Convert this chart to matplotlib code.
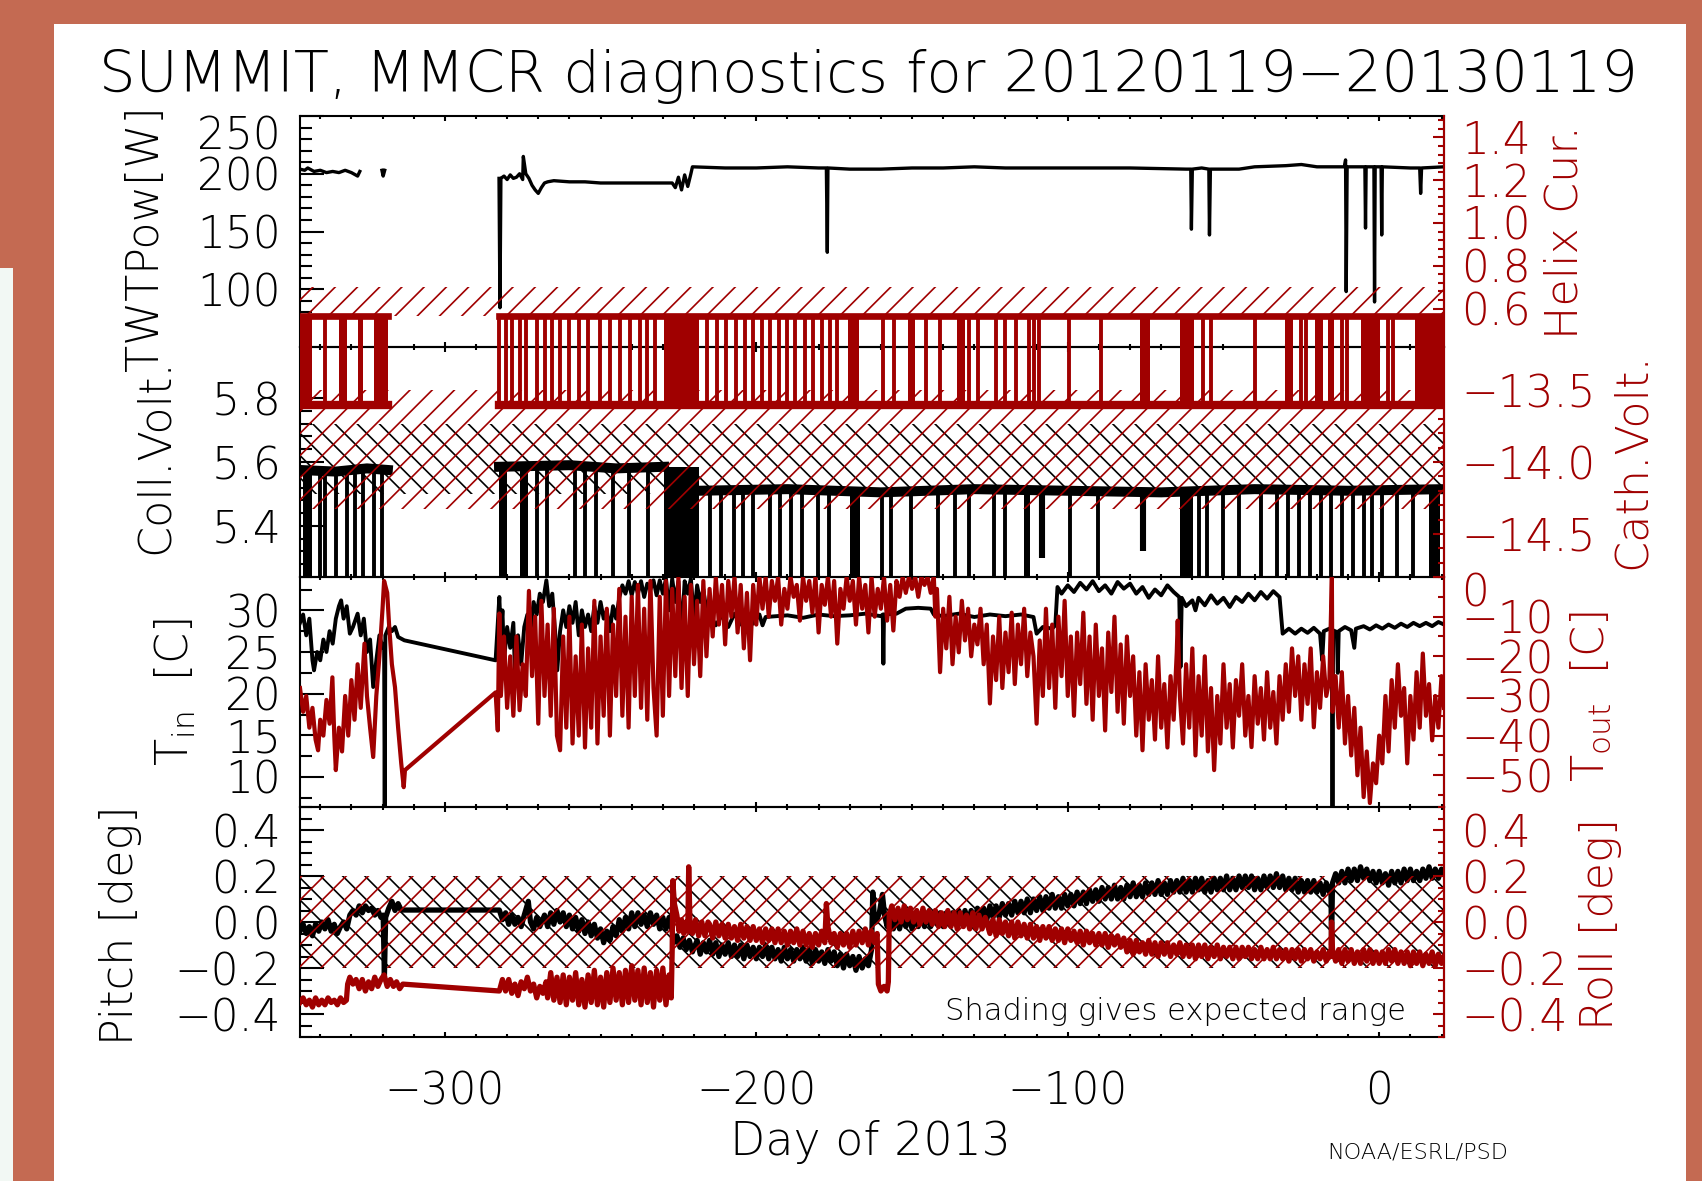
import matplotlib.pyplot as plt
import numpy as np
from matplotlib.patches import Rectangle
from matplotlib.ticker import MultipleLocator

plt.rcParams['font.family'] = ['DejaVu Sans']
plt.rcParams['font.weight'] = 250
plt.rcParams['mathtext.default'] = 'regular'
plt.rcParams['hatch.linewidth'] = 0.6

RED = '#a00000'
nan = np.nan

# ---------------- data (x = day of 2013) ----------------
title = 'SUMMIT, MMCR diagnostics for 20120119\u221220130119'

# panel 1: TWT power [W] (black) and helix current (red)
twt_pts = [(-346.5, 204), (-345, 203), (-344, 205), (-342, 202), (-340, 203), (-338, 201),
           (-336, 202), (-334, 201), (-332, 203), (-330, 201), (-328, 198), (-327.3, 202),
           (nan, nan), (-320.2, 203), (-319.8, 198), (-319.3, 203), (nan, nan),
           (-282.6, 196), (-282.3, 84), (-282, 196), (-281, 198), (-280, 195), (-279, 199),
           (-278, 196), (-277, 197), (-276, 200), (-275, 195), (-274.8, 215), (-274, 200),
           (-273, 196), (-272, 190), (-271, 186), (-270, 183), (-269, 188), (-268, 192),
           (-267, 193), (-265, 194), (-260, 193), (-255, 193), (-250, 192), (-240, 192),
           (-230, 192), (-227, 192), (-226, 188), (-225, 197), (-224, 186), (-223, 199),
           (-222, 189), (-221, 200), (-220.5, 206), (-210, 205), (-200, 205), (-190, 206),
           (-180, 205), (-177.5, 205), (-177.2, 132), (-177, 205), (-170, 204), (-160, 204),
           (-150, 205), (-140, 205), (-130, 206), (-120, 205), (-100, 205), (-80, 205),
           (-62, 204), (-60.5, 204), (-60.3, 152), (-60, 204), (-57, 205), (-54.7, 204),
           (-54.5, 147), (-54.2, 204), (-45, 204), (-40, 206), (-30, 207), (-25, 208),
           (-20, 206), (-11.2, 206), (-10.8, 212), (-10.6, 98), (-10.3, 206), (-4.6, 206),
           (-4.4, 153), (-4.2, 206), (-1.7, 206), (-1.5, 89), (-1.3, 206), (0.6, 206),
           (0.8, 147), (1.0, 206), (10, 205), (13.0, 205), (13.3, 183), (13.6, 205),
           (20.8, 206)]
helix_day = [-346.5, -318.3, nan, -282.6, 20.8]
helix_cur = [0.565, 0.565, nan, 0.565, 0.565]
helix_ok = (0.565, 0.70)

# radar-off samples: helix drops / cathode voltage jumps (red bars)
red_off_day = [-338.5, -282.6, -280.5, -278.4, -276.0, -273.9, -270.5, -267.8, -265.5,
               -263.0, -260.0, -257.0, -254.0, -250.2, -247.0, -243.8, -240.5, -237.3,
               -235.0, -232.5, -215.8, -212.5, -209.7, -206.5, -203.6, -201.0, -198.2,
               -195.5, -192.7, -190.0, -187.6, -184.5, -181.8, -179.0, -176.3, -174.0,
               -159.4, -155.8, -145.5, -141.0, -131.7, -128.8, -123.0, -120.1, -116.6,
               -112.4, -110.8, -109.2, -99.5, -89.3, -56.5, -53.9, -40.0, -25.1, -23.5,
               -11.9, -10.3, 2.8, 4.4]
red_off_span = [(-346.5, 3.8), (-334.0, 2.6), (-328.0, 1.7), (-322.7, 4.4), (-229.6, 11.2),
                (-170.5, 3.6), (-151.3, 2.3), (-135.6, 2.6), (-76.8, 3.2), (-64.0, 4.4),
                (-30.3, 2.6), (-20.6, 2.5), (-16.4, 1.9), (-5.9, 6.2), (11.5, 9.3)]

# panel 2: collector voltage (black) and cathode voltage (red)
coll_day = [-346.5, -335, -325, -318.3, nan, -282.6, -260, -245, -229.6, nan,
            -218.4, -190, -160, -130, -100, -70, -40, -10, 20.8]
coll_volt = [5.575, 5.57, 5.58, 5.575, nan, 5.585, 5.59, 5.58, 5.585, nan,
             5.51, 5.515, 5.505, 5.515, 5.51, 5.505, 5.515, 5.51, 5.515]
coll_ok = (5.50, 5.72)
coll_off_a = [-340.0, -338.5, -334.9, -331.4, -328.8, -326.3, -322.7, -320.2, -270.4,
              -267.2, -258.2, -254.9, -251.5, -246.0, -240.9, -234.8]
coll_off_b = [-214.9, -211.3, -207.2, -204.3, -201.0, -195.6, -192.4, -188.9, -185.3,
              -180.2, -176.7, -159.6, -156.7, -150.3, -141.7, -136.2, -131.7, -123.7,
              -120.1, -99.3, -90.3, -57.8, -55.3, -50.3, -45.0, -38.0, -32.8, -29.3,
              -25.8, -22.3, -18.8, -15.4, -11.9, -8.4, -4.9, -2.4, 1.0, 5.6, 10.8]
coll_span_a = [(-345.5, 2.9), (-282.6, 2.6), (-275.9, 2.6), (-229.6, 11.2)]
coll_span_b = [(-169.9, 3.2), (-114.0, 2.0), (-64.0, 4.2), (16.0, 3.5)]
coll_dip_day = [-108.3, -75.8]
coll_dip_low = [5.30, 5.32]

cath_day = [-346.5, -318.3, nan, -282.6, 20.8]
cath_volt = [-13.605, -13.605, nan, -13.605, -13.605]
cath_ok = (-14.33, -13.5)

# panel 3: inside (black) and outside (red) temperature [C]
t_in_pts = [(-346.5, 28.5), (-345.5, 29.5), (-344.5, 27), (-343.5, 29), (-342.5, 24), (-342, 22.8),
            (-341, 25), (-340, 24), (-339, 26.5), (-338, 25), (-337, 27.5), (-336, 26), (-335, 29),
            (-334, 30.5), (-333.3, 31.2), (-332.5, 29), (-331.5, 30.5), (-330.5, 27.2), (-329.5, 28),
            (-328, 29.6), (-327, 27), (-326, 29), (-325, 25), (-324, 26.5), (-323, 20.8), (-322, 24),
            (-321, 27), (-320, 25.5), (-319.5, 26), (-319.3, 6.0), (-319.1, 27), (-318, 28),
            (-317, 27.5), (-316, 28), (-315, 26.8), (-313, 26.4), (-283.7, 24.0),
            (-282.5, 31.6), (-282, 27), (-281.5, 30), (-281, 24), (-280, 28), (-279, 25.5),
            (-278, 28.5), (-277.5, 22.8), (-276.5, 27), (-275.5, 23.5), (-274.5, 28), (-273.5, 29.5),
            (-272.5, 27.5), (-271.5, 31), (-270.5, 29.5), (-269.5, 32), (-268.5, 31), (-267.4, 33.6),
            (-266.5, 30.5), (-265.5, 32), (-264.5, 27), (-263.9, 22.8), (-263, 27.5), (-262, 30),
            (-261, 28), (-260, 30.5), (-259, 28.5), (-258, 31), (-257, 27), (-256, 30), (-255, 28),
            (-254, 29.5), (-253, 27.5), (-252, 30.5), (-251, 28.5), (-250, 31), (-249, 29), (-248, 30),
            (-247, 27.5), (-246, 30.5), (-245, 29), (-244, 31.5), (-243, 33), (-242, 32), (-241, 33.5),
            (-240, 31.8), (-239, 33.4), (-238, 32), (-237, 33.5), (-236, 31.6), (-235, 33.2),
            (-234, 32.5), (-233, 33.6), (-232, 31.8), (-231, 33.6), (-230, 32), (-229, 33.8),
            (-228, 30), (-227, 33.8), (-226, 31), (-225, 33.5), (-224, 26.8), (-223, 33.5),
            (-222, 32), (-221, 33.8), (-220, 29), (-219, 33), (-218, 31), (-217, 32.5), (-216, 30),
            (-215, 29.6), (-213, 28.2), (-211, 29.4), (-209, 28), (-207, 29.6), (-205, 28.3),
            (-203, 29.5), (-201, 28.4), (-199, 29.5), (-198, 28.2), (-197, 29.2),
            (-190, 29.4), (-185, 29.1), (-180, 29.5), (-175, 29.3), (-170, 29.4), (-165, 29.6),
            (-160, 29.3), (-159.4, 29.5), (-159.2, 23.6), (-159, 29.5), (-155, 29.6), (-152, 30.2),
            (-148, 30.3), (-144, 30.2), (-143, 29.5), (-140, 29.3), (-135, 29.6), (-130, 29.2),
            (-125, 29.5), (-120, 29.3), (-115, 29.5), (-111, 29.2), (-110, 27.2), (-108, 28.0),
            (-105, 27.8), (-104, 28.2), (-103.3, 32.8), (-102, 32), (-100, 33), (-98, 32.2),
            (-96, 33.3), (-94, 32.5), (-92, 33.5), (-90, 32.3), (-88, 33), (-86, 32), (-84, 33.4),
            (-82, 32.6), (-80, 33.2), (-78, 32), (-76, 32.8), (-74, 31.5), (-72, 32.5), (-70, 31.8),
            (-68, 33), (-66, 32.2), (-64.2, 31.6), (-63.8, 23.2), (-63.4, 31.5), (-62, 30.5),
            (-60, 31.2), (-59, 30), (-58, 31.5), (-56, 30.6), (-54, 31.8), (-52, 30.8), (-50, 31.5),
            (-48, 30.4), (-46, 31.6), (-44, 31), (-42, 32), (-40, 31.2), (-38, 32.2), (-36, 31.4),
            (-34, 32.3), (-32, 31.6), (-31, 27.2), (-29, 27.8), (-27, 27.2), (-25, 27.8), (-23, 27.3),
            (-21, 27.9), (-19, 27.2), (-18.3, 24), (-17.8, 27.5), (-16, 27.8), (-15.2, 27.6),
            (-15, 6.0), (-14.8, 27.6), (-13.6, 27.4), (-13.3, 22.5), (-13, 27.5), (-11, 28),
            (-9, 27.6), (-8, 25.5), (-7.5, 27.8), (-5, 28.1), (-3, 27.7), (-1, 28.2), (1, 27.8),
            (3, 28.3), (5, 27.9), (7, 28.4), (9, 28), (11, 28.5), (13, 28.1), (15, 28.5), (17, 28.1),
            (19, 28.6), (20.8, 28.3)]

t_out_pts = [(-346.5, -28), (-345.5, -34), (-344.5, -30), (-343.5, -38), (-342.5, -33), (-341.5, -41),
             (-340.7, -43.7), (-340, -36), (-339, -40), (-338, -31), (-337, -37), (-336.1, -25.3),
             (-335.5, -40), (-335, -48.7), (-334, -38), (-333, -44), (-332, -30), (-331, -40),
             (-330, -26), (-329, -36), (-328, -22), (-327, -33), (-325.8, -16.8), (-325, -30),
             (-324, -38), (-323, -45.4), (-322, -30), (-321, -20), (-320, -8), (-319.5, -1),
             (-318.5, -4), (-317.9, -12), (-317, -22), (-316, -27.8), (-315, -38), (-314, -47),
             (-313.2, -53), (-312.8, -48.7), (-283.7, -29.1),
             (-283, -38.7), (-282.5, -9.2), (-282, -30), (-281, -15), (-280, -33), (-279, -20),
             (-278, -35), (-277, -15), (-276, -33.6), (-275, -22), (-274, -30), (-273, -3.5),
             (-272, -25), (-271, -10), (-270, -37), (-269, -6), (-268, -30), (-267, -12), (-266, -35),
             (-265, -8), (-264, -40), (-263, -43.7), (-262, -15), (-261, -38), (-260, -10), (-259, -42),
             (-258, -20), (-257, -40), (-256, -12), (-255, -43), (-254, -18), (-253, -38), (-252, -6),
             (-251, -42), (-250, -15), (-249, -35), (-248, -8), (-247, -40), (-246, -12), (-245, -30),
             (-244, -3), (-243, -35), (-242, -10), (-241, -38), (-240, -5), (-239, -30), (-238, -2),
             (-237, -33), (-236, -8), (-235, -36), (-234, -1), (-233, -28), (-232, -40), (-231, -5),
             (-230, -35), (-229, -1), (-228, -30), (-227, -3), (-226, -25), (-225, 0), (-224, -28),
             (-223, -5), (-222, -30), (-221, -2), (-220, -22), (-219, -6), (-218, -25), (-217, -1),
             (-216, -20), (-215, -3), (-214, -15), (-213, 0), (-212, -12), (-211, -2), (-210, -17),
             (-209, -1), (-208, -10), (-207, 0), (-206, -14), (-205, -2), (-204, -18), (-203, -4),
             (-202, -21), (-201, -2), (-200, -12), (-199, 0), (-198, -8), (-197, 0), (-196, -10),
             (-195, -1), (-194, -6), (-193, 0), (-192, -12), (-191, -3), (-190, -8), (-189, 0),
             (-188, -5), (-187, -2), (-186, -11), (-185, 0), (-184, -6), (-183, -1), (-182, -9),
             (-181, 0), (-180, -14), (-179, -2), (-178, -7), (-177, 0), (-176, -10), (-175, -1),
             (-174, -16.8), (-173, -3), (-172, -8), (-171, 0), (-170, -6),
             (-169, -1), (-168, -12), (-167, 0), (-166, -8), (-165, -2), (-164, -14), (-163, 0),
             (-162, -10), (-161, -3), (-160, -8), (-159, 0), (-158, -11), (-157, -2), (-156, -13.5),
             (-155, -1), (-154, -5), (-153, 0), (-152, -4), (-151, 0), (-150, -3), (-149, 0),
             (-148, -5), (-147, 0), (-146, -2), (-145, 0), (-144, -4), (-143, 0), (-142.5, -10),
             (-142, -3), (-141, -24), (-140, -8), (-139, -18), (-138, -5), (-137, -22), (-136, -10),
             (-135, -19), (-134, -6), (-133, -16), (-132, -8), (-131, -20), (-130, -12), (-129, -17),
             (-128, -8), (-127, -22), (-126, -12), (-125, -31.9), (-124, -15), (-123, -26),
             (-122, -10), (-121, -28), (-120, -14), (-119, -24), (-118, -9), (-117, -27), (-116, -12),
             (-115, -22), (-114, -8), (-113, -25), (-112, -14), (-111, -20), (-110, -37), (-109, -16),
             (-108, -30), (-107, -8), (-106, -28), (-105, -12), (-104, -33), (-103, -10), (-102, -25),
             (-101, -6), (-100, -30), (-99, -15), (-98, -35), (-97, -14), (-96, -27), (-95, -9),
             (-94, -32), (-93, -15), (-92, -36), (-91, -12), (-90, -30), (-89, -18), (-88, -38.7),
             (-87, -14), (-86, -29), (-85, -10), (-84, -34), (-83, -17), (-82, -37), (-81, -15),
             (-80, -30), (-79, -20), (-78, -40), (-77, -24), (-76, -43.7), (-75, -22), (-74, -36),
             (-73, -26), (-72, -41), (-71, -20), (-70, -38), (-69, -27), (-68, -43), (-67, -25),
             (-66, -36), (-65, -19), (-64.7, -11), (-64, -30), (-63, -42), (-62, -22), (-61, -38),
             (-60, -18), (-59, -45), (-58, -25), (-57, -40), (-56, -20), (-55, -44), (-54, -28),
             (-53, -48.7), (-52, -30), (-51, -42), (-50, -22), (-49, -38), (-48, -27), (-47, -43),
             (-46, -26), (-45, -35), (-44, -22), (-43, -40), (-42, -30), (-41, -42.9), (-40, -25),
             (-39, -37), (-38, -28), (-37, -41), (-36, -24), (-35, -38), (-34, -29), (-33, -42),
             (-32, -25), (-31, -36), (-30, -22), (-29, -34), (-28, -18), (-27, -30), (-26, -20),
             (-25, -36), (-24, -22), (-23, -32), (-22, -18), (-21, -37.9), (-20, -24), (-19, -33),
             (-18, -20), (-17, -30), (-16, -26), (-15.2, 0), (-15, -34), (-14, -25), (-13, -38),
             (-12, -24), (-11, -42), (-10, -30), (-9, -45), (-8, -33), (-7, -50), (-6, -38),
             (-5, -55.5), (-4, -44), (-3, -57), (-2, -47), (-1, -52), (0, -40), (1, -47), (2, -30),
             (3, -44), (4, -26), (5, -38), (6, -22), (7, -35), (8, -28), (9, -47), (10, -30),
             (11, -41), (12, -24), (13, -38), (14, -19.3), (15, -35), (16, -27), (17, -41.2),
             (18, -30), (19, -38), (20, -25), (20.8, -33)]

# panel 4: pitch (black) and roll (red) [deg]
pitch_pts = [(-346.5, -0.04), (-345.5, -0.01), (-344.5, -0.05), (-343.5, -0.02), (-342.5, -0.06),
             (-341.5, -0.01), (-340.5, -0.04), (-339.5, 0.0), (-338.5, -0.03), (-337.5, 0.01),
             (-336.5, -0.04), (-335.5, -0.01), (-334.5, -0.05), (-333.5, -0.02), (-332.5, 0.0),
             (-331.5, -0.03), (-330.5, 0.03), (-329.5, 0.05), (-328.5, 0.03), (-327.5, 0.07),
             (-326.5, 0.04), (-325.5, 0.07), (-324.5, 0.05), (-323.5, 0.06), (-322.5, 0.03),
             (-321.5, 0.05), (-320.5, 0.02), (-319.8, 0.03), (-319.4, -0.24), (-319.0, 0.02),
             (-318, 0.06), (-317, 0.09), (-316, 0.05), (-315, 0.08), (-314, 0.052), (-282.5, 0.052),
             (-281.5, 0.01), (-280.5, 0.04), (-279.5, -0.01), (-278.5, 0.03), (-277.5, -0.01),
             (-276.5, 0.02), (-275.5, -0.02), (-274.5, 0.03), (-273.2, 0.09), (-272.5, 0.0),
             (-271.5, -0.03), (-270.5, 0.02), (-269.5, -0.02),
             (-268, 0.03), (-267, -0.02), (-266, 0.04), (-265, -0.01), (-264, 0.05), (-263, 0.0),
             (-262, 0.04), (-261, -0.02), (-260, 0.03), (-259, -0.03), (-258, 0.02), (-257, -0.04),
             (-256, 0.01), (-255, -0.05), (-254, 0.0), (-253, -0.06), (-252, -0.01), (-251, -0.07),
             (-250, -0.03), (-249, -0.09), (-248, -0.04), (-247, -0.08), (-246, -0.02), (-245, -0.06),
             (-244, 0.01), (-243, -0.04), (-242, 0.02), (-241, -0.03), (-240, 0.04), (-239, -0.02),
             (-238, 0.04), (-237, -0.01), (-236, 0.03), (-235, -0.02), (-234, 0.04), (-233, -0.01),
             (-232, 0.03), (-231, -0.03), (-230, 0.02), (-229, -0.03), (-228, 0.02), (-227, -0.04),
             (-226.5, -0.09), (-225.5, -0.06), (-224.5, -0.11), (-223.5, -0.07), (-222.5, -0.12),
             (-221.5, -0.08), (-220.5, -0.13), (-219, -0.08), (-218, -0.14), (-217, -0.09),
             (-216, -0.13), (-215, -0.08), (-214, -0.14), (-213, -0.09), (-212, -0.15), (-211, -0.10),
             (-210, -0.14), (-209, -0.09), (-208, -0.15), (-207, -0.10), (-206, -0.15), (-205, -0.10),
             (-204, -0.16), (-203, -0.10), (-202, -0.15), (-201, -0.11), (-200, -0.16), (-199, -0.11),
             (-198, -0.15), (-197, -0.10), (-196, -0.16), (-195, -0.11), (-194, -0.16), (-193, -0.12),
             (-192, -0.17), (-191, -0.11), (-190, -0.16), (-189, -0.12), (-188, -0.17), (-187, -0.12),
             (-186, -0.16), (-185, -0.11), (-184, -0.17), (-183, -0.12), (-182, -0.18), (-181, -0.12),
             (-180, -0.17), (-179, -0.13), (-178, -0.18), (-177, -0.12), (-176, -0.17), (-175, -0.13),
             (-174, -0.19), (-173, -0.14), (-172, -0.20), (-171, -0.14), (-170, -0.19), (-169, -0.15),
             (-168, -0.21), (-167, -0.15), (-166, -0.20), (-165, -0.16), (-164, -0.19), (-163, -0.12),
             (-162.6, 0.13), (-162.2, 0.04), (-161.5, 0.0), (-160.5, 0.04), (-159.5, 0.12),
             (-158.8, 0.03), (-158, -0.02), (-157, 0.02), (-156, -0.03), (-155, 0.02), (-154, -0.03),
             (-153, 0.03), (-152, -0.02), (-151, 0.03), (-150, -0.03), (-149, 0.02), (-148, -0.02),
             (-147, 0.03), (-146, -0.02), (-145, 0.04), (-144, -0.02), (-143, 0.03), (-142, -0.01),
             (-141, 0.04), (-140, -0.02), (-139, 0.04), (-138, -0.01), (-137, 0.04), (-136, 0.0),
             (-135, 0.05), (-134, -0.01), (-133, 0.05), (-132, 0.0), (-131, 0.05), (-130, 0.0),
             (-129, 0.06), (-128, 0.01), (-127, 0.06), (-126, 0.01), (-125, 0.07), (-124, 0.02),
             (-123, 0.07), (-122, 0.02), (-121, 0.08), (-120, 0.03), (-119, 0.08), (-118, 0.03),
             (-117, 0.09), (-116, 0.04), (-115, 0.09), (-114, 0.04), (-113, 0.10), (-112, 0.04),
             (-111, 0.10), (-110, 0.05), (-109, 0.11), (-108, 0.05), (-107, 0.11), (-106, 0.06),
             (-105, 0.12), (-104, 0.06), (-103, 0.11), (-102, 0.06), (-101, 0.12), (-100, 0.07),
             (-99, 0.12), (-98, 0.07), (-97, 0.13), (-96, 0.08), (-95, 0.13), (-94, 0.08), (-93, 0.14),
             (-92, 0.09), (-91, 0.14), (-90, 0.09), (-89, 0.15), (-88, 0.10), (-87, 0.15), (-86, 0.10),
             (-85, 0.16), (-84, 0.10), (-83, 0.15), (-82, 0.10), (-81, 0.16), (-80, 0.11), (-79, 0.17),
             (-78, 0.11), (-77, 0.16), (-76, 0.11), (-75, 0.17), (-74, 0.12), (-73, 0.17), (-72, 0.12),
             (-71, 0.18), (-70, 0.12), (-69, 0.17), (-68, 0.12), (-67, 0.18), (-66, 0.13), (-65, 0.18),
             (-64, 0.13), (-63, 0.19), (-62, 0.13), (-61, 0.18), (-60, 0.13), (-59, 0.19), (-58, 0.14),
             (-57, 0.19), (-56, 0.13), (-55, 0.18), (-54, 0.13), (-53, 0.19), (-52, 0.14), (-51, 0.19),
             (-50, 0.14), (-49, 0.20), (-48, 0.14), (-47, 0.19), (-46, 0.14), (-45, 0.20), (-44, 0.15),
             (-43, 0.20), (-42, 0.15), (-41, 0.20), (-40, 0.14), (-39, 0.19), (-38, 0.14), (-37, 0.20),
             (-36, 0.15), (-35, 0.20), (-34, 0.15), (-33, 0.21), (-32, 0.15), (-31, 0.20), (-30, 0.14),
             (-29, 0.19), (-28, 0.14), (-27, 0.19), (-26, 0.13), (-25, 0.18), (-24, 0.13), (-23, 0.18),
             (-22, 0.13), (-21, 0.18), (-20, 0.13), (-19, 0.17), (-18, 0.12), (-17, 0.17), (-16, 0.13),
             (-15.5, 0.14), (-15.3, -0.10), (-15.0, 0.17), (-14, 0.21), (-13, 0.17), (-12, 0.22),
             (-11, 0.17), (-10, 0.23), (-9, 0.18), (-8, 0.23), (-7, 0.18), (-6, 0.24), (-5, 0.19),
             (-4, 0.23), (-3, 0.18), (-2, 0.22), (-1, 0.17), (0, 0.22), (1, 0.17), (2, 0.21), (3, 0.16),
             (4, 0.22), (5, 0.17), (6, 0.22), (7, 0.17), (8, 0.23), (9, 0.18), (10, 0.23), (11, 0.18),
             (12, 0.22), (13, 0.18), (14, 0.23), (15, 0.19), (16, 0.24), (17, 0.19), (18, 0.23),
             (19, 0.19), (20, 0.23), (20.8, 0.21)]

roll_pts = [(-346.5, -0.35), (-345.5, -0.33), (-344.5, -0.36), (-343.5, -0.34), (-342.5, -0.37),
            (-341.5, -0.33), (-340.5, -0.36), (-339.5, -0.34), (-338.5, -0.36), (-337.5, -0.33),
            (-336.5, -0.35), (-335.5, -0.34), (-334.5, -0.36), (-333.5, -0.33), (-332.5, -0.35),
            (-331.6, -0.34), (-331.2, -0.27), (-330.5, -0.24), (-329.5, -0.27), (-328.5, -0.25),
            (-327.5, -0.29), (-326.5, -0.25), (-325.5, -0.30), (-324.5, -0.26), (-323.5, -0.29),
            (-322.5, -0.24), (-321.5, -0.28), (-320.5, -0.25), (-319.5, -0.23), (-318.5, -0.28),
            (-317.5, -0.25), (-316.5, -0.28), (-315.5, -0.26), (-314.5, -0.29), (-313.5, -0.27),
            (-282.5, -0.30), (-281.5, -0.25), (-280.5, -0.30), (-279.5, -0.25), (-278.5, -0.31),
            (-277.5, -0.27), (-276.5, -0.32), (-275.5, -0.26), (-274.5, -0.29), (-273.5, -0.24),
            (-272.5, -0.30), (-271.5, -0.27), (-270.5, -0.33), (-269.5, -0.28), (-268.5, -0.31),
            (-267.5, -0.26), (-267, -0.33), (-266, -0.22), (-265, -0.34), (-264, -0.24), (-263, -0.35),
            (-262, -0.23), (-261, -0.36), (-260, -0.24), (-259, -0.34), (-258, -0.22), (-257, -0.36),
            (-256, -0.25), (-255, -0.37), (-254, -0.23), (-253, -0.35), (-252, -0.21), (-251, -0.36),
            (-250, -0.24), (-249, -0.37), (-248, -0.22), (-247, -0.35), (-246, -0.20), (-245, -0.34),
            (-244, -0.22), (-243, -0.36), (-242, -0.21), (-241, -0.35), (-240, -0.19), (-239, -0.34),
            (-238, -0.21), (-237, -0.36), (-236, -0.20), (-235, -0.35), (-234, -0.22), (-233, -0.37),
            (-232, -0.21), (-231, -0.34), (-230, -0.20), (-229, -0.36), (-228, -0.23), (-227.3, -0.33),
            (-227.0, -0.12), (-226.8, 0.18), (-226.3, 0.08), (-225.5, 0.03), (-224.8, -0.04),
            (-224, 0.01), (-223.3, -0.05), (-222.5, 0.0), (-222, -0.04), (-221.7, 0.24),
            (-221.3, 0.0), (-220.5, -0.05), (-219.5, 0.01), (-218.5, -0.06), (-217.5, 0.0),
            (-216.5, -0.06), (-215.5, 0.0), (-215, -0.01), (-214, -0.07), (-213, 0.0), (-212, -0.06),
            (-211, -0.01), (-210, -0.07), (-209, -0.01), (-208, -0.07), (-207, -0.02), (-206, -0.08),
            (-205, -0.01), (-204, -0.07), (-203, -0.02), (-202, -0.08), (-201, -0.02), (-200, -0.08),
            (-199, -0.03), (-198, -0.09), (-197, -0.03), (-196, -0.08), (-195, -0.03), (-194, -0.09),
            (-193, -0.03), (-192, -0.09), (-191, -0.04), (-190, -0.10), (-189, -0.04), (-188, -0.09),
            (-187, -0.03), (-186, -0.10), (-185, -0.04), (-184, -0.10), (-183, -0.05), (-182, -0.11),
            (-181, -0.05), (-180, -0.10), (-179, -0.04), (-178, -0.09), (-177.5, 0.08), (-177, -0.02),
            (-176, -0.09), (-175, -0.05), (-174, -0.11), (-173, -0.05), (-172, -0.10), (-171, -0.05),
            (-170, -0.11), (-169, -0.04), (-168, -0.10), (-167, -0.04), (-166, -0.09), (-165, -0.03),
            (-164, -0.10), (-163, -0.04), (-162, -0.09), (-161.2, -0.05), (-160.8, -0.27), (-160, -0.30),
            (-159, -0.28), (-158, -0.30), (-157.6, -0.26), (-157.3, 0.03), (-156.5, 0.07),
            (-155.5, 0.01), (-154.5, 0.06), (-153.5, 0.0), (-152.5, 0.07), (-151.5, 0.01),
            (-150.5, 0.06), (-149.5, 0.0), (-148.5, 0.05), (-147.5, -0.01), (-146.5, 0.06),
            (-145.5, 0.0), (-144.5, 0.05), (-143.5, -0.01), (-142.5, 0.05), (-141.5, -0.02),
            (-140.5, 0.04), (-139.5, -0.02), (-138.5, 0.05), (-137.5, -0.02), (-136.5, 0.04),
            (-135.5, -0.03), (-134.5, 0.04), (-133.5, -0.02), (-132.5, 0.03), (-131.5, -0.03),
            (-130.5, 0.04), (-129.5, -0.03), (-128.5, 0.03), (-127.5, -0.03), (-126.5, 0.02),
            (-125, -0.05), (-124, 0.01), (-123, -0.06), (-122, 0.01), (-121, -0.05), (-120, 0.0),
            (-119, -0.06), (-118, 0.0), (-117, -0.07), (-116, 0.0), (-115, -0.06), (-114, -0.01),
            (-113, -0.07), (-112, -0.01), (-111, -0.07), (-110, -0.02), (-109, -0.08), (-108, -0.02),
            (-107, -0.07), (-106, -0.02), (-105, -0.08), (-104, -0.03), (-103, -0.08), (-102, -0.03),
            (-101, -0.09), (-100, -0.03), (-99, -0.08), (-98, -0.04), (-97, -0.09), (-96, -0.04),
            (-95, -0.10), (-94, -0.04), (-93, -0.09), (-92, -0.05), (-91, -0.10), (-90, -0.05),
            (-89, -0.10), (-88, -0.05), (-87, -0.11), (-86, -0.06), (-85, -0.10), (-84, -0.06),
            (-83, -0.11), (-82, -0.07), (-81, -0.13), (-80, -0.08), (-79, -0.14), (-78, -0.08),
            (-77, -0.13), (-76, -0.09), (-75, -0.14), (-74, -0.08), (-73, -0.14), (-72, -0.09),
            (-71, -0.15), (-70, -0.09), (-69, -0.14), (-68, -0.09), (-67, -0.15), (-66, -0.10),
            (-65, -0.14), (-64, -0.09), (-63, -0.15), (-62, -0.10), (-61, -0.15), (-60, -0.10),
            (-59, -0.16), (-58, -0.10), (-57, -0.15), (-56, -0.10), (-55, -0.16), (-54, -0.11),
            (-53, -0.15), (-52, -0.10), (-51, -0.16), (-50, -0.11), (-49, -0.15), (-48, -0.11),
            (-47, -0.16), (-46, -0.11), (-45, -0.16), (-44, -0.11), (-43, -0.15), (-42, -0.11),
            (-41, -0.16), (-40, -0.12), (-39, -0.16), (-38, -0.11), (-37, -0.16), (-36, -0.12),
            (-35, -0.16), (-34, -0.11), (-33, -0.16), (-32, -0.12), (-31, -0.16), (-30, -0.12),
            (-29, -0.17), (-28, -0.12), (-27, -0.16), (-26, -0.12), (-25, -0.17), (-24, -0.12),
            (-23, -0.16), (-22, -0.12), (-21, -0.17), (-20, -0.13), (-19, -0.16), (-18, -0.12),
            (-17, -0.17), (-16, -0.13), (-15.5, -0.15), (-15.3, 0.0), (-15.0, -0.12), (-14, -0.17),
            (-13, -0.12), (-12, -0.18), (-11, -0.12), (-10, -0.17), (-9, -0.12), (-8, -0.18),
            (-7, -0.13), (-6, -0.18), (-5, -0.12), (-4, -0.17), (-3, -0.12), (-2, -0.18), (-1, -0.13),
            (0, -0.18), (1, -0.13), (2, -0.18), (3, -0.12), (4, -0.17), (5, -0.12), (6, -0.18),
            (7, -0.13), (8, -0.18), (9, -0.13), (10, -0.19), (11, -0.13), (12, -0.18), (13, -0.13),
            (14, -0.19), (15, -0.14), (16, -0.18), (17, -0.13), (18, -0.19), (19, -0.14), (20, -0.18),
            (20.8, -0.15)]
pitch_ok = (-0.2, 0.2)
roll_ok = (-0.2, 0.2)

# ---------------- figure ----------------
W_PX, H_PX = 1702, 1181
fig = plt.figure(figsize=(W_PX / 200, H_PX / 200), dpi=200, facecolor='#c46a52')


def fx(px):
    return px / W_PX


def fy(py):
    return 1 - py / H_PX


fig.add_artist(Rectangle((fx(54), 0), fx(1686) - fx(54), fy(24), transform=fig.transFigure,
                         facecolor='white', edgecolor='none', zorder=-5))
fig.add_artist(Rectangle((0, 0), fx(13), fy(268), transform=fig.transFigure,
                         facecolor='#f2f8f4', edgecolor='none', zorder=-5))

edges = [116, 347, 577, 807, 1037]
axes = []
for i in range(4):
    rect = [fx(300), fy(edges[i + 1]), fx(1444) - fx(300), fy(edges[i]) - fy(edges[i + 1])]
    ax = fig.add_axes(rect, sharex=axes[0] if axes else None)
    ax.set_facecolor('none')
    axes.append(ax)
twins = [ax.twinx() for ax in axes]

for ax in axes:
    for s in ax.spines.values():
        s.set_linewidth(0.75)
    ax.tick_params(axis='x', which='both', direction='in', top=True, bottom=True,
                   labelbottom=False, width=0.75)
    ax.tick_params(axis='x', which='major', length=1.9)
    ax.tick_params(axis='x', which='minor', length=1.1)
    ax.tick_params(axis='y', which='both', direction='in', width=0.75, labelsize=15.8, pad=6.8)
    ax.tick_params(axis='y', which='major', length=8.6)
    ax.tick_params(axis='y', which='minor', length=4.3)
    ax.xaxis.set_major_locator(MultipleLocator(100))
    ax.xaxis.set_minor_locator(MultipleLocator(10))
for tw in twins:
    tw.spines['right'].set_color(RED)
    tw.spines['right'].set_linewidth(0.75)
    for side in ('left', 'top', 'bottom'):
        tw.spines[side].set_visible(False)
    tw.tick_params(axis='y', which='both', direction='in', colors=RED, width=0.75,
                   labelsize=15.8, pad=6.1)
    tw.tick_params(axis='y', which='major', length=4.0)
    tw.tick_params(axis='y', which='minor', length=2.2)

axes[3].tick_params(axis='x', labelbottom=True, labelsize=15.8, pad=11.9)
axes[0].set_xlim(-346.5, 20.8)
axes[3].set_xticks([-300, -200, -100, 0])
axes[3].set_xticklabels(['\u2212300', '\u2212200', '\u2212100', '0'])

# ---- panel 1
ax, tw = axes[0], twins[0]
ax.set_ylim(50, 250)
ax.set_yticks([100, 150, 200, 250])
ax.set_yticklabels(['100', '150', '200', ''])
ax.yaxis.set_minor_locator(MultipleLocator(10))
ax.annotate('250', xy=(0, 250), xycoords=('axes fraction', 'data'), xytext=(-6.8, 0),
            textcoords='offset points', ha='right', va='top', fontsize=15.8, annotation_clip=False)
twt = np.array(twt_pts, dtype=float)
ax.plot(twt[:, 0], twt[:, 1], color='k', lw=1.2)
tw.set_ylim(0.42, 1.5)
tw.set_yticks([0.6, 0.8, 1.0, 1.2, 1.4])
tw.set_yticklabels(['0.6', '0.8', '1.0', '1.2', '1.4'])
tw.yaxis.set_minor_locator(MultipleLocator(0.04))
tw.axhspan(*helix_ok, facecolor='none', edgecolor=RED, hatch='///', lw=0)
tw.plot(helix_day, helix_cur, color=RED, lw=2.4)
tw.vlines(red_off_day, 0.0, 0.565, colors=RED, lw=1.4)
tw.broken_barh(red_off_span, (0.0, 0.565), facecolors=RED)

# ---- panel 2
ax, tw = axes[1], twins[1]
ax.set_ylim(5.24, 5.96)
ax.set_yticks([5.4, 5.6, 5.8])
ax.set_yticklabels(['5.4', '5.6', '5.8'])
ax.yaxis.set_minor_locator(MultipleLocator(0.04))
ax.axhspan(*coll_ok, facecolor='none', edgecolor='k', hatch='\\\\\\', lw=0)
ax.plot(coll_day, coll_volt, color='k', lw=3.6)
ax.vlines(coll_off_a, 5.0, 5.585, colors='k', lw=1.4)
ax.vlines(coll_off_b, 5.0, 5.51, colors='k', lw=1.4)
ax.vlines(coll_dip_day, coll_dip_low, 5.51, colors='k', lw=2.2)
ax.broken_barh(coll_span_a, (5.0, 0.585), facecolors='k')
ax.broken_barh(coll_span_b, (5.0, 0.51), facecolors='k')
tw.set_ylim(-14.8, -13.2)
tw.set_yticks([-14.5, -14.0, -13.5])
tw.set_yticklabels(['\u221214.5', '\u221214.0', '\u221213.5'])
tw.yaxis.set_minor_locator(MultipleLocator(0.1))
tw.axhspan(*cath_ok, facecolor='none', edgecolor=RED, hatch='///', lw=0)
tw.plot(cath_day, cath_volt, color=RED, lw=3.0)
tw.vlines(red_off_day, -13.605, -12.0, colors=RED, lw=1.4)
tw.broken_barh(red_off_span, (-13.605, 2.0), facecolors=RED)

# ---- panel 3
ax, tw = axes[2], twins[2]
ax.set_ylim(6.4, 34)
ax.set_yticks([10, 15, 20, 25, 30])
ax.set_yticklabels(['10', '15', '20', '25', '30'])
ax.yaxis.set_minor_locator(MultipleLocator(2.5))
tin = np.array(t_in_pts)
ax.plot(tin[:, 0], tin[:, 1], color='k', lw=1.4)
tw.set_ylim(-58, 0)
tw.set_yticks([-50, -40, -30, -20, -10, 0])
tw.set_yticklabels(['\u221250', '\u221240', '\u221230', '\u221220', '\u221210', ''])
tw.yaxis.set_minor_locator(MultipleLocator(5))
tw.annotate('0', xy=(1, 0), xycoords=('axes fraction', 'data'), xytext=(6.1, 1.5),
            textcoords='offset points', ha='left', va='top', fontsize=15.8, color=RED,
            annotation_clip=False)
tout = np.array(t_out_pts)
tw.plot(tout[:, 0], tout[:, 1], color=RED, lw=1.5)

# ---- panel 4
ax, tw = axes[3], twins[3]
for a in (ax, tw):
    a.set_ylim(-0.5, 0.5)
    a.set_yticks([-0.4, -0.2, 0.0, 0.2, 0.4])
    a.set_yticklabels(['\u22120.4', '\u22120.2', '0.0', '0.2', '0.4'])
    a.yaxis.set_minor_locator(MultipleLocator(0.05))
ax.axhspan(*pitch_ok, facecolor='none', edgecolor='k', hatch='\\\\\\', lw=0)
pit = np.array(pitch_pts)
ax.plot(pit[:, 0], pit[:, 1], color='k', lw=1.9)
tw.axhspan(*roll_ok, facecolor='none', edgecolor=RED, hatch='///', lw=0)
rol = np.array(roll_pts)
tw.plot(rol[:, 0], rol[:, 1], color=RED, lw=1.9)

# ---- texts
fig.text(fx(868), fy(92), title, ha='center', va='baseline', fontsize=20.7)
fig.text(fx(870), fy(1155), 'Day of 2013', ha='center', va='baseline', fontsize=16.5)
fig.text(fx(1406), fy(1012), 'Shading gives expected range', ha='right', va='center', fontsize=11)
fig.text(fx(1418), fy(1153), 'NOAA/ESRL/PSD', ha='center', va='center', fontsize=8)

left_labels = [('TWTPow[W]', 145, 238), ('Coll.Volt.', 155, 456),
               ('T$_{in}$  [C]', 175, 692), ('Pitch [deg]', 120, 925)]
right_labels = [('Helix Cur.', 1565, 232), ('Cath.Volt.', 1632, 461),
                ('T$_{out}$  [C]', 1591, 697), ('Roll [deg]', 1601, 924)]
for txt, x, y in left_labels:
    fig.text(fx(x), fy(y), txt, rotation=90, ha='center', va='center', fontsize=16)
for txt, x, y in right_labels:
    fig.text(fx(x), fy(y), txt, rotation=90, ha='center', va='center', fontsize=16, color=RED)

fig.savefig('out.png', dpi=200, facecolor=fig.get_facecolor())
